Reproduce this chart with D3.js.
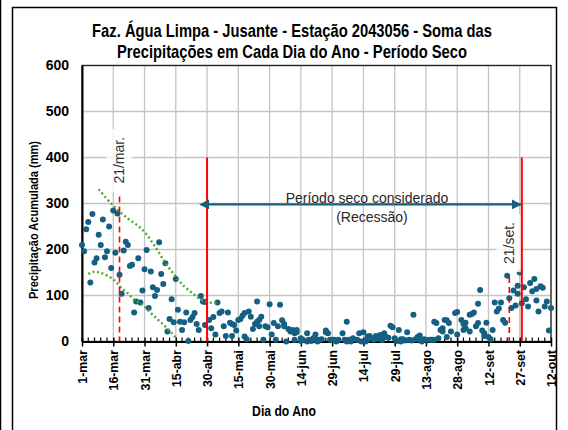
<!DOCTYPE html>
<html><head><meta charset="utf-8">
<script src="https://cdn.jsdelivr.net/npm/d3@7"></script>
<style>body{margin:0;background:#fff}svg{display:block}</style>
</head><body>
<svg id="chart" width="568" height="430"></svg>
<script>
// ---------- data ----------
const titleLines = ["Faz. Água Limpa - Jusante -  Estação 2043056 - Soma das",
                    "Precipitações em Cada Dia do Ano - Período Seco"];
const yLabel = "Precipitação Acumulada (mm)";
const xLabel = "Dia do Ano";
const tickDays = [0,15,30,45,60,75,90,105,120,135,150,165,180,195,210,225];
const tickLabels = ["1-mar","16-mar","31-mar","15-abr","30-abr","15-mai","30-mai","14-jun",
                    "29-jun","14-jul","29-jul","13-ago","28-ago","12-set","27-set","12-out"];
const yTicks = [0,100,200,300,400,500,600];
// [day since 1-mar, accumulated precipitation mm]
const obsDays = [0,1,2,3,4,5,6,7,8,9,10,11,12,13,14,15,16,17,18,19,20,21,22,23,24,25,26,27,28,29,30,31,32,33,34,35,36,37,38,39,40,41,42,43,44,45,46,47,48,49,50,51,52,53,54,55,56,57,58,59,59,
 61,62,63,64,65,66,67,68,69,70,71,72,72,73,74,75,76,77,78,78,79,80,81,82,83,84,84,85,85,86,87,88,89,90,91,92,93,94,95,96,97,97,
 98,99,100,101,102,102,103,103,105,105,106,108,108,109,110,111,112,113,113,114,115,117,117,118,119,120,121,122,123,125,126,127,127,128,129,130,132,133,134,135,136,137,137,
 138,139,140,141,142,143,144,145,145,146,147,148,149,150,151,152,153,153,154,155,156,157,158,159,160,161,162,162,163,164,165,167,168,169,169,170,171,172,173,173,
 174,175,175,176,177,179,180,180,182,183,183,184,184,186,186,187,188,189,190,190,191,192,193,193,194,195,196,197,198,199,200,201,202,203,
 204,205,206,207,208,209,209,210,211,212,213,214,215,216,217,218,218,219,220,221,222,223,224,225];
const obsValues = [210,196,244,260,128,277,172,181,232,210,265,183,196,250,160,285,193,278,145,104,198,217,210,164,167,63,87,181,85,111,157,199,73,152,118,99,112,216,147,125,170,22,49,92,42,136,69,43,25,42,63,1,47,53,62,38,25,99,87,86,36,
 47,29,53,15,85,62,65,33,12,63,41,38,12,36,24,47,49,56,62,11,5,65,54,27,38,43,87,47,33,54,4,33,31,81,15,40,4,33,80,46,38,33,
 0,27,22,25,18,4,25,20,7,1,4,18,0,4,1,7,15,4,0,4,5,24,20,18,4,4,4,0,4,18,4,0,43,4,0,7,4,18,0,20,0,4,11,
 12,7,4,12,6,14,3,18,12,10,8,34,31,7,1,25,5,0,5,2,20,4,2,58,5,10,13,4,0,5,4,4,4,4,43,40,7,25,29,22,
 47,10,46,40,22,62,64,15,47,38,25,41,29,58,22,60,63,33,40,82,112,24,18,12,41,10,5,25,85,65,72,85,47,41,
 143,94,73,111,78,104,121,150,83,118,92,76,127,109,136,114,89,65,120,117,76,87,24,73];
// green dotted envelope curves
const upperDays = [8,14,21,29,35,40,45,49,53,57,61,65];
const upperValues = [331,300,271,243,207,171,141,120,105,91,85,84];
const lowerDays = [3,6,9,13,16,19,22,25,29,33,38,43,45];
const lowerValues = [147,152,149,141,131,116,105,91,80,62,41,19,8];
// reference dates
const dryStartDay = 60, dryEndDay = 211, dryLineTop = 400;
const equinoxDays = [18, 205];
const equinoxLabels = ["21/mar.", "21/set."];
const equinoxTops = [315, 140];
const arrowValue = 298;
const arrowTexts = ["Período seco considerado", "(Recessão)"];

// ---------- drawing ----------
const svg = d3.select("#chart");
const W = 568, H = 430;
const m = {left: 82, right: 551, top: 65.5, bottom: 341.5};
const x = d3.scaleLinear().domain([0,225]).range([m.left, m.right]);
const y = d3.scaleLinear().domain([0,600]).range([m.bottom, m.top]);
const sans = "'Liberation Sans',Arial,sans-serif";
const teal = "#156082", green = "#4EA72E", red = "#FF0000";

svg.append("rect").attr("width", W).attr("height", H).attr("fill", "#fff");
// outer frame
svg.append("line").attr("x1",0.5).attr("x2",0.5).attr("y1",0).attr("y2",H).attr("stroke","#000").attr("stroke-width",1.5);
svg.append("rect").attr("x",12.5).attr("y",7.5).attr("width",544).attr("height",450)
  .attr("fill","none").attr("stroke","#000").attr("stroke-width",1.5);

// narrow bold text helper (condensed look)
function narrowText(parent, tx, ty, rot, txt, size, sx) {
  return parent.append("text")
    .attr("transform", `translate(${tx},${ty}) rotate(${rot}) scale(${sx},1)`)
    .attr("text-anchor","middle").attr("font-family", sans).attr("font-weight","bold")
    .attr("font-size", size).attr("fill","#000").text(txt);
}

// title
titleLines.forEach((t,i) => narrowText(svg, 292, 37 + i*20.5, 0, t, 18, 0.82));

// gridlines
const grid = svg.append("g");
grid.selectAll(".hg").data(yTicks.slice(1)).join("line")
  .attr("x1", m.left).attr("x2", m.right).attr("y1", d => y(d)).attr("y2", d => y(d))
  .attr("stroke","#c4c4c4").attr("stroke-width",1.3);
grid.selectAll(".vg").data(tickDays.slice(1)).join("line")
  .attr("x1", d => x(d)).attr("x2", d => x(d)).attr("y1", m.top).attr("y2", m.bottom)
  .attr("stroke","#c4c4c4").attr("stroke-width",1.3);

// plot border
svg.append("rect").attr("x", m.left).attr("y", m.top).attr("width", m.right-m.left).attr("height", m.bottom-m.top)
  .attr("fill","none").attr("stroke","#222").attr("stroke-width",1.3);

// axes
const xAxis = d3.axisBottom(x).tickValues(tickDays).tickFormat((d,i) => tickLabels[i]).tickSize(5).tickSizeOuter(0);
const gx = svg.append("g").attr("transform", `translate(0,${m.bottom})`).call(xAxis);
gx.select(".domain").attr("stroke","#000").attr("stroke-width",2);
gx.selectAll(".tick line").attr("stroke","#000").attr("stroke-width",1.5).attr("y1",-4);
gx.selectAll(".tick text").attr("font-family", sans).attr("font-weight","bold").attr("font-size",13)
  .attr("fill","#000").attr("text-anchor","end").attr("dy","0.35em")
  .attr("transform","rotate(-90) scale(0.95,1)").attr("x",-9).attr("y",0);
// minor ticks every 3 days
const minor = d3.range(0, 226, 3).filter(d => d % 15 !== 0);
svg.append("g").selectAll("line").data(minor).join("line")
  .attr("x1", d => x(d)).attr("x2", d => x(d)).attr("y1", m.bottom-4).attr("y2", m.bottom)
  .attr("stroke","#000").attr("stroke-width",1.2);

const yAxis = d3.axisLeft(y).tickValues(yTicks).tickSize(0).tickPadding(13);
const gy = svg.append("g").attr("transform", `translate(${m.left},0)`).call(yAxis);
gy.select(".domain").attr("stroke","#000").attr("stroke-width",2);
gy.selectAll(".tick text").attr("font-family", sans).attr("font-weight","bold").attr("font-size",14).attr("fill","#000");

// axis titles
narrowText(svg, 284, 416, 0, xLabel, 14.5, 0.84);
narrowText(svg, 38, 220, -90, yLabel, 13.5, 0.82);

// scatter
const obs = obsDays.map((d,i) => [d, obsValues[i]]);
svg.append("g").selectAll("circle").data(obs).join("circle")
  .attr("cx", d => x(d[0])).attr("cy", d => y(d[1])).attr("r", 3).attr("fill", teal);

// envelope curves
const line = d3.line().x(d => x(d[0])).y(d => y(d[1])).curve(d3.curveCatmullRom);
[[upperDays, upperValues], [lowerDays, lowerValues]].forEach(([ds, vs]) => {
  svg.append("path").datum(ds.map((d,i) => [d, vs[i]])).attr("d", line)
    .attr("fill","none").attr("stroke", green).attr("stroke-width",2.4)
    .attr("stroke-dasharray","2,2.6");
});

// equinox dashed lines + labels
equinoxDays.forEach((d,i) => {
  svg.append("line").attr("x1", x(d)).attr("x2", x(d)).attr("y1", y(equinoxTops[i])).attr("y2", m.bottom)
    .attr("stroke", red).attr("stroke-width",1.6).attr("stroke-dasharray","6,4");
});
const labelCenters = [y(394), y(214)];
equinoxDays.forEach((d,i) => {
  const g = svg.append("g").attr("transform", `translate(${x(d)},${labelCenters[i]}) rotate(-90)`);
  const t = g.append("text").attr("text-anchor","middle").attr("dy","0.35em")
    .attr("font-family", sans).attr("font-size",14).attr("fill","#333").text(equinoxLabels[i]);
  const bb = t.node().getBBox();
  g.insert("rect","text").attr("x", bb.x-8).attr("y", bb.y-5).attr("width", bb.width+16).attr("height", bb.height+10)
    .attr("fill","#fff").attr("fill-opacity",0.8);
});

// dry-period red lines
[dryStartDay, dryEndDay].forEach(d => {
  svg.append("line").attr("x1", x(d)).attr("x2", x(d)).attr("y1", y(dryLineTop)).attr("y2", m.bottom)
    .attr("stroke", red).attr("stroke-width",2);
});

// double arrow
const defs = svg.append("defs");
["s","e"].forEach(k => {
  defs.append("marker").attr("id","arr"+k).attr("viewBox","0 0 10 10").attr("refX", k==="e"?9:1).attr("refY",5)
    .attr("markerWidth",4.5).attr("markerHeight",4.5).attr("orient", k==="e" ? "auto" : "auto-start-reverse")
    .append("path").attr("d","M0,0 L10,5 L0,10 Z").attr("fill", teal);
});
svg.append("line").attr("x1", x(dryStartDay)+1).attr("x2", x(dryEndDay)-1).attr("y1", y(arrowValue)).attr("y2", y(arrowValue))
  .attr("stroke", teal).attr("stroke-width",2.2)
  .attr("marker-start","url(#arrs)").attr("marker-end","url(#arre)");
svg.append("text").attr("x", 367).attr("y", y(302)).attr("text-anchor","middle")
  .attr("font-family", sans).attr("font-size",14).attr("fill","#262626").text(arrowTexts[0]);
svg.append("text").attr("x", 372).attr("y", y(259)).attr("text-anchor","middle")
  .attr("font-family", sans).attr("font-size",14).attr("fill","#262626").text(arrowTexts[1]);
</script>
</body></html>
